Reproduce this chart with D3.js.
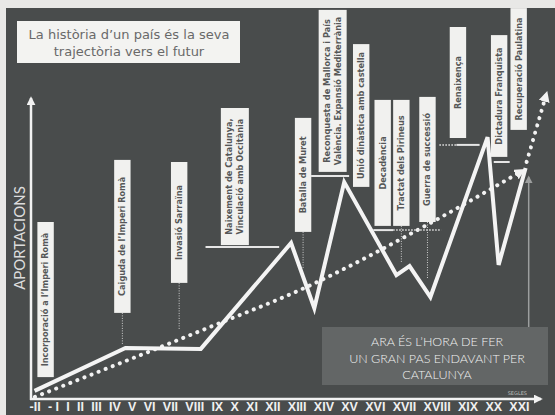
<!DOCTYPE html>
<html>
<head>
<meta charset="utf-8">
<script src="https://cdn.jsdelivr.net/npm/d3@7"></script>
<style>
body { margin: 0; background: #e8e8e6; }
svg { display: block; }
</style>
</head>
<body>
<svg id="chart" width="555" height="415"></svg>
<script>
// ---- data ----
var centuryLabels = ["-II", "- I", "I", "II", "III", "IV", "V", "VI", "VII", "VIII", "IX", "X",
    "XI", "XII", "XIII", "XIV", "XV", "XVI", "XVII", "XVIII", "XIX", "XX", "XXI"];
var centuryNums = [-2, -1, 1, 2, 3, 4, 5, 6, 7, 8, 9, 10, 11, 12, 13, 14, 15, 16, 17, 18, 19, 20, 21];

// "aportacions" line (white zigzag)
var lineCentury = [-2.0, 4.64, 8.29, 12.77, 13.66, 14.81, 16.74, 17.17, 17.81, 19.78, 20.21, 21.26];
var lineValue   = [2.7, 17, 16.7, 52, 30.3, 72.3, 41.3, 44.3, 34, 87.3, 44.7, 77];

// dotted trend towards the future
var trendCentury  = [-1.98, 8.6, 13.36, 17.75, 21.18];
var trendValue    = [0.7, 23.7, 37.3, 58.3, 76.3];
var trend2Century = [21.3, 22.08];
var trend2Value   = [79, 102];

// events (white boxes)
var eventLines = [
    ["Incorporació a l’Imperi Romà"],
    ["Caiguda de l’Imperi Romà"],
    ["Invasió Sarraïna"],
    ["Naixement de Catalunya,", "Vinculació amb Occitània"],
    ["Batalla de Muret"],
    ["Reconquesta de Mallorca i País", "València. Expansió Mediterrània"],
    ["Unió dinàstica amb castella"],
    ["Decadència"],
    ["Tractat dels Pirineus"],
    ["Guerra de successió"],
    ["Renaixença"],
    ["Dictadura Franquista"],
    ["Recuperació Paulatina"]
];
var eventCentury = [-1.4, 4.46, 7.38, 10.04, 13.24, 14.36, 15.47, 16.27, 16.91, 17.72, 18.69, 20.23, 20.99];
var eventTop     = [59, 79.7, 79, 97, 93.7, 129.7, 118.3, 99.7, 99.7, 100.7, 124, 121.3, 130.3];
var eventBottom  = [7.3, 28.7, 38.7, 51.3, 55.7, 75.7, 70.7, 57.7, 57.7, 59, 87, 80.7, 89.7];
var connectorEnd = [null, 18, 23, null, 43.7, null, null, null, 45.7, 40.3, null, null, null];

// little rules under some boxes
var ruleFrom   = [8.5, 13.54, 15.94, 16.63, 18.09, 18.64, 20.02];
var ruleTo     = [12.28, 15.0, 16.63, 18.15, 18.64, 19.47, 20.64];
var ruleValue  = [50.7, 74.3, 56.3, 56.3, 84.7, 84.7, 79];
var ruleDotted = [false, false, false, true, true, false, false];

// thin pointer from the message box
var pointerCentury = 21.38;
var pointerValues = [24, 74];

var titleLines = ["La història d’un país és la seva", "trajectòria vers el futur"];
var messageLines = ["ARA ÉS L’HORA DE FER", "UN GRAN PAS ENDAVANT PER", "CATALUNYA"];

// ---- layout ----
var W = 555, H = 415;
var axisX = 31, axisY = 399;
var tickStart = 29, tickEnd = 529;

var svg = d3.select("#chart");

var defs = svg.append("defs");
function arrow(id, color, size) {
    defs.append("marker")
        .attr("id", id)
        .attr("viewBox", "0 0 10 10")
        .attr("refX", 8).attr("refY", 5)
        .attr("markerUnits", "userSpaceOnUse")
        .attr("markerWidth", size).attr("markerHeight", size)
        .attr("orient", "auto")
        .append("path")
        .attr("d", "M0,0L10,5L0,10Z")
        .attr("fill", color);
}
arrow("axisArrow", "#f2f2f2", 9);
arrow("trendArrow", "#f2f2f2", 11);
arrow("pointerArrow", "#9c9e9e", 8);

// background panel
svg.append("rect").attr("width", W).attr("height", H).attr("fill", "#e8e8e6");
svg.append("rect").attr("x", 6).attr("y", 8).attr("width", W - 6).attr("height", H - 8)
    .attr("fill", "#494c4c");

// x scale from the tick label layout (labels are set like a line of text)
var tickFontSize = 12.5;
var meas = svg.append("g")
    .attr("font-family", "'Liberation Sans', Arial, sans-serif")
    .attr("font-weight", "bold")
    .attr("font-size", tickFontSize);
var widths = centuryLabels.map(function(l) {
    var t = meas.append("text").text(l);
    var w = t.node().getComputedTextLength();
    t.remove();
    return w;
});
meas.remove();
var gap = (tickEnd - tickStart - d3.sum(widths)) / (widths.length - 1);
var centers = [];
var cur = tickStart;
widths.forEach(function(w) { centers.push(cur + w / 2); cur += w + gap; });

var x = d3.scaleLinear().domain(centuryNums).range(centers);
var y = d3.scaleLinear().domain([0, 100]).range([axisY, 99]);

// title box
svg.append("rect").attr("x", 17).attr("y", 21).attr("width", 223).attr("height", 42)
    .attr("fill", "#f3f3f1");
svg.append("g").selectAll("text").data(titleLines).enter().append("text")
    .attr("x", 129)
    .attr("y", (d, i) => 39 + i * 16.5)
    .attr("text-anchor", "middle")
    .attr("font-family", "'DejaVu Sans', Verdana, sans-serif")
    .attr("font-size", 13)
    .attr("fill", "#696969")
    .text(d => d);

// message box
svg.append("rect").attr("x", 322).attr("y", 327).attr("width", 226).attr("height", 58)
    .attr("fill", "#636666");
svg.append("g").selectAll("text").data(messageLines).enter().append("text")
    .attr("x", 437)
    .attr("y", (d, i) => 346 + i * 16.5)
    .attr("text-anchor", "middle")
    .attr("font-family", "Lato, 'Open Sans', sans-serif")
    .attr("font-weight", 300)
    .attr("font-size", 12.5)
    .attr("fill", "#f2f2f2")
    .text(d => d);

// pointer arrow
svg.append("line")
    .attr("x1", x(pointerCentury)).attr("x2", x(pointerCentury))
    .attr("y1", y(pointerValues[0])).attr("y2", y(pointerValues[1]))
    .attr("stroke", "#9c9e9e").attr("stroke-width", 1.5)
    .attr("marker-end", "url(#pointerArrow)");

// axes
svg.append("line")
    .attr("x1", axisX).attr("x2", axisX)
    .attr("y1", axisY + 1).attr("y2", 98)
    .attr("stroke", "#f2f2f2").attr("stroke-width", 2.5)
    .attr("marker-end", "url(#axisArrow)");
svg.append("line")
    .attr("x1", axisX - 1).attr("x2", 541)
    .attr("y1", axisY).attr("y2", axisY)
    .attr("stroke", "#f2f2f2").attr("stroke-width", 2.5)
    .attr("marker-end", "url(#axisArrow)");

var xAxis = d3.axisBottom(x)
    .tickValues(centuryNums)
    .tickFormat((d, i) => centuryLabels[i])
    .tickSize(0);
var gx = svg.append("g").attr("transform", "translate(0,411)").call(xAxis);
gx.select(".domain").remove();
gx.selectAll("text")
    .attr("y", 0).attr("dy", 0)
    .attr("font-family", "'Liberation Sans', Arial, sans-serif")
    .attr("font-weight", "bold")
    .attr("font-size", tickFontSize)
    .attr("fill", "#f0f0f0");

svg.append("text")
    .attr("x", 527).attr("y", 395)
    .attr("text-anchor", "end")
    .attr("font-family", "'DejaVu Sans', sans-serif")
    .attr("font-size", 5)
    .attr("fill", "#bdbdbd")
    .text("SEGLES");

svg.append("text")
    .attr("transform", "translate(25,238) rotate(-90)")
    .attr("text-anchor", "middle")
    .attr("font-family", "Lato, 'Open Sans', sans-serif")
    .attr("font-weight", 400)
    .attr("font-size", 15)
    .attr("fill", "#dcdcdc")
    .text("APORTACIONS");

// trend (dotted)
var trendLine = d3.line().x(d => x(d[0])).y(d => y(d[1])).curve(d3.curveMonotoneX);
svg.append("path")
    .datum(d3.zip(trendCentury, trendValue))
    .attr("d", trendLine)
    .attr("fill", "none")
    .attr("stroke", "#f2f2f2").attr("stroke-width", 4)
    .attr("stroke-linecap", "round")
    .attr("stroke-dasharray", "0.1 7.5")
    .attr("marker-end", "url(#trendArrow)");
svg.append("path")
    .datum(d3.zip(trend2Century, trend2Value))
    .attr("d", d3.line().x(d => x(d[0])).y(d => y(d[1])))
    .attr("fill", "none")
    .attr("stroke", "#f2f2f2").attr("stroke-width", 4)
    .attr("stroke-linecap", "round")
    .attr("stroke-dasharray", "0.1 7.5")
    .attr("marker-end", "url(#trendArrow)");

// main line
svg.append("path")
    .datum(d3.zip(lineCentury, lineValue))
    .attr("d", d3.line().x(d => x(d[0])).y(d => y(d[1])))
    .attr("fill", "none")
    .attr("stroke", "#f4f4f4").attr("stroke-width", 4)
    .attr("stroke-linejoin", "miter");

// rules under boxes
svg.append("g").selectAll("line").data(ruleFrom).enter().append("line")
    .attr("x1", (d, i) => x(d)).attr("x2", (d, i) => x(ruleTo[i]))
    .attr("y1", (d, i) => y(ruleValue[i])).attr("y2", (d, i) => y(ruleValue[i]))
    .attr("stroke", "#e6e6e6")
    .attr("stroke-width", (d, i) => ruleDotted[i] ? 1.5 : 2)
    .attr("stroke-dasharray", (d, i) => ruleDotted[i] ? "1.5 1.5" : null);

// connectors
svg.append("g").selectAll("line")
    .data(eventCentury.map((c, i) => i).filter(i => connectorEnd[i] != null))
    .enter().append("line")
    .attr("x1", i => x(eventCentury[i])).attr("x2", i => x(eventCentury[i]))
    .attr("y1", i => y(eventBottom[i])).attr("y2", i => y(connectorEnd[i]))
    .attr("stroke", "#cfcfcf").attr("stroke-width", 1)
    .attr("stroke-dasharray", "1 1.5");

// event boxes
var lineStep = 10.5;
var boxes = svg.append("g").selectAll("g").data(eventLines).enter().append("g");
boxes.append("rect")
    .attr("x", (d, i) => x(eventCentury[i]) - (d.length > 1 ? 14 : 8.2))
    .attr("width", d => d.length > 1 ? 28 : 16.4)
    .attr("y", (d, i) => y(eventTop[i]))
    .attr("height", (d, i) => y(eventBottom[i]) - y(eventTop[i]))
    .attr("fill", "#f1f1ef");
boxes.each(function(d, i) {
    var cx = x(eventCentury[i]);
    var cy = (y(eventTop[i]) + y(eventBottom[i])) / 2;
    d3.select(this).append("text")
        .attr("transform", "translate(" + cx + "," + cy + ") rotate(-90)")
        .attr("text-anchor", "middle")
        .attr("font-family", "'DejaVu Sans', Verdana, sans-serif")
        .attr("font-weight", "bold")
        .attr("font-size", 8.2)
        .attr("fill", "#555757")
        .selectAll("tspan").data(d).enter().append("tspan")
        .attr("x", 0)
        .attr("y", (t, j) => (j - (d.length - 1) / 2) * lineStep)
        .attr("dy", "0.35em")
        .text(t => t);
});
</script>
</body>
</html>
